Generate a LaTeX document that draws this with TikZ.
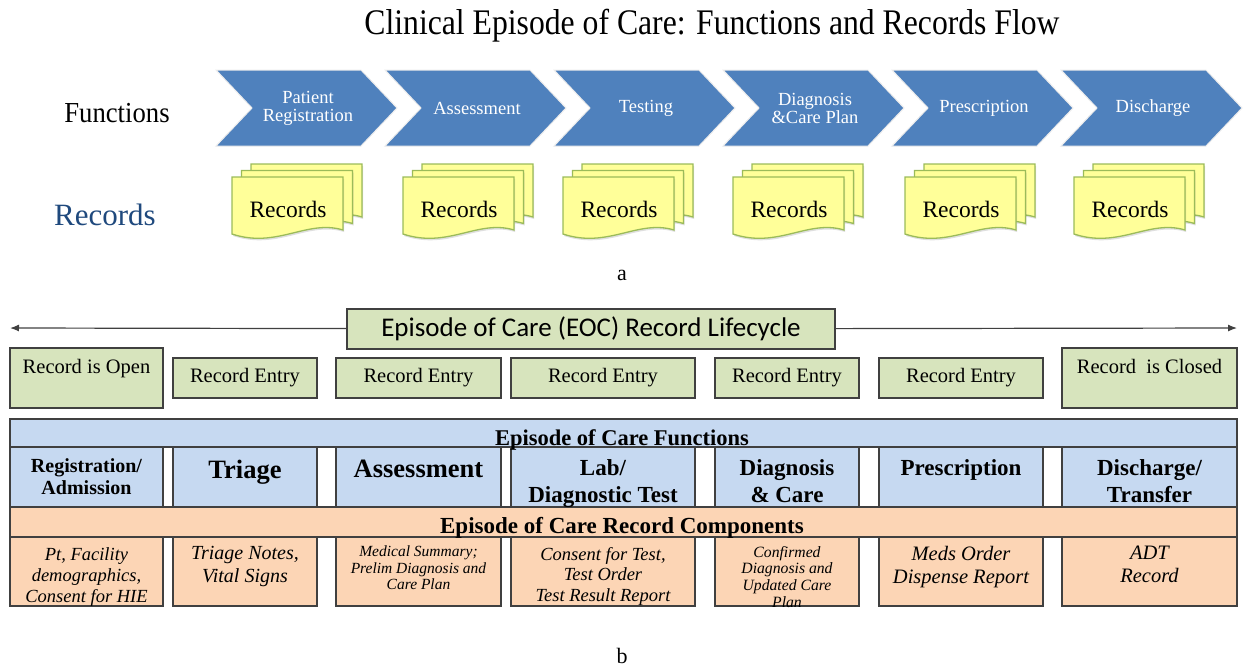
\documentclass[tikz,border=0pt]{standalone}
\usepackage{fontspec}
\usepackage{graphicx}
\setmainfont{Liberation Serif}
\newfontfamily\calibrifont{Carlito}
\usetikzlibrary{arrows.meta,shadows}

\definecolor{chevblue}{HTML}{4F81BD}
\definecolor{docyellow}{HTML}{FFFF99}
\definecolor{docgreen}{HTML}{9BBB59}
\definecolor{recgreen}{HTML}{D7E4BD}
\definecolor{fnblue}{HTML}{C6D9F1}
\definecolor{rcorange}{HTML}{FCD5B5}
\definecolor{linegray}{HTML}{404040}
\definecolor{recblue}{HTML}{1F497D}

\newcommand\fsz[2]{\fontsize{#1}{#2}\selectfont}
\newcommand\recdoc[2]{\path[doc, shift={(#1,#2)}] (0,0) -- (111,0) -- (111,53) .. controls (75,42) and (45,72) .. (0,57) -- cycle;}

\tikzset{
  chev/.style={fill=chevblue, draw=white!85!gray, line width=1pt},
  chevtext/.style={text=white, align=center, font=\fsz{18.5}{18}},
  doc/.style={fill=docyellow, draw=docgreen, line width=1.3pt, drop shadow={opacity=0.25, shadow xshift=1pt, shadow yshift=-2pt}},
  cellbox/.style={draw=linegray, line width=1.3pt, inner sep=0pt},
  lifebox/.style={cellbox, fill=recgreen},
  fnbox/.style={cellbox, fill=fnblue, minimum height=60pt},
  rcbox/.style={cellbox, fill=rcorange, minimum height=69pt},
  celltext/.style={anchor=north, align=center, inner sep=0pt},
  lifearrow/.style={draw=linegray, line width=1.2pt, -{Latex[length=9pt,width=7pt]}}
}

\begin{document}
\begin{tikzpicture}[x=1pt, y=-1pt]
  \useasboundingbox (0,0) rectangle (1244,669);

  \node[anchor=base] (title) at (712,35) {\scalebox{0.88}[1]{\fsz{36}{40}Clinical Episode of Care: Functions and Records Flow}};
  \node[anchor=base] (funclabel) at (117,122) {\scalebox{0.92}[1]{\fsz{29}{30}Functions}};
  \node[anchor=base, text=recblue] (reclabel) at (105,225) {\fsz{31}{32}Records};

  \foreach \t [count=\i from 0] in {{Patient\\Registration},Assessment,Testing,{Diagnosis\\\&Care Plan},Prescription,Discharge}{
    \pgfmathsetmacro\x{216+169*\i}
    \path[chev] (\x,70) -- ++(145,0) -- ++(36,38) -- ++(-36,38) -- ++(-145,0) -- ++(36,-38) -- cycle;
    \node[chevtext] (func\i) at (\x+92,108) {\t};
  }

  \foreach \x [count=\i] in {232,403,563,733,905,1074}{
    \recdoc{\x+19}{164}
    \recdoc{\x+9.5}{170.5}
    \recdoc{\x}{177}
    \node[anchor=base, font=\fsz{23.5}{25}] (rec\i) at (\x+56,217) {Records};
  }

  \node[anchor=base, font=\fsz{22}{24}] (parta) at (622,280) {a};

  \coordinate (lifeL) at (10,328);
  \coordinate (lifeR) at (1237,328);
  \node[lifebox, minimum width=488pt, minimum height=40pt, font=\calibrifont\fsz{27}{28}] (eoc) at (591,329) {Episode of Care (EOC) Record Lifecycle};
  \draw[lifearrow] (eoc) -- (lifeL);
  \draw[lifearrow] (eoc) -- (lifeR);

  \node[lifebox, minimum width=153pt, minimum height=60pt] (open) at (86.5,378) {};
  \node[celltext, font=\fsz{20.5}{22}] (opentext) at (86.5,359) {Record is Open};
  \foreach \l/\r [count=\i] in {173/317,336/501,511/695,715/859,879/1043}{
    \pgfmathsetmacro\c{(\l+\r)/2}
    \pgfmathsetmacro\w{\r-\l}
    \node[lifebox, minimum width=\w pt, minimum height=40pt, font=\fsz{20.5}{22}] (entry\i) at (\c,378) {Record Entry};
  }
  \node[lifebox, minimum width=175pt, minimum height=60pt] (closed) at (1149.5,378) {};
  \node[celltext, font=\fsz{20.5}{22}] (closedtext) at (1149.5,359) {Record~ is Closed};

  \node[cellbox, fill=fnblue, minimum width=1227pt, minimum height=28pt] (fnband) at (623.5,433) {};
  \node[cellbox, fill=rcorange, minimum width=1227pt, minimum height=30pt] (rcband) at (623.5,522) {};
  \foreach \l/\r [count=\i] in {10/163,173/317,336/501,511/695,715/859,879/1043,1062/1237}{
    \pgfmathsetmacro\c{(\l+\r)/2}
    \pgfmathsetmacro\w{\r-\l}
    \node[fnbox, minimum width=\w pt] (fn\i) at (\c,477) {};
    \node[rcbox, minimum width=\w pt] (rc\i) at (\c,571.5) {};
  }
  \node[anchor=base, font=\bfseries\fsz{22.5}{24}] (fntitle) at (622,445) {Episode of Care Functions};
  \node[anchor=base, font=\bfseries\fsz{23}{24}] (rctitle) at (622,533) {Episode of Care Record Components};

  \node[celltext, font=\bfseries\fsz{20}{22}] at (fn1.north |- 0,458) {Registration/\\Admission};
  \node[celltext, font=\bfseries\fsz{26.5}{28}] at (fn2.north |- 0,460) {Triage};
  \node[celltext, font=\bfseries\fsz{26.5}{28}] at (fn3.north |- 0,460) {Assessment};
  \node[celltext, font=\bfseries\fsz{23}{27}] at (fn4.north |- 0,459) {Lab/\\Diagnostic Test};
  \node[celltext, font=\bfseries\fsz{23}{27}] at (fn5.north |- 0,459) {Diagnosis\\\& Care};
  \node[celltext, font=\bfseries\fsz{23}{27}] at (fn6.north |- 0,459) {Prescription};
  \node[celltext, font=\bfseries\fsz{23}{27}] at (fn7.north |- 0,459) {Discharge/\\Transfer};

  \node[celltext, font=\itshape\fsz{18.5}{21}] at (rc1.north |- 0,547) {Pt, Facility\\demographics,\\Consent for HIE};
  \node[celltext, font=\itshape\fsz{20}{23}] at (rc2.north |- 0,546) {Triage Notes,\\Vital Signs};
  \node[celltext, font=\itshape\fsz{15.5}{16.5}] at (rc3.north |- 0,546) {Medical Summary;\\Prelim Diagnosis and\\Care Plan};
  \node[celltext, font=\itshape\fsz{18.5}{20.5}] at (rc4.north |- 0,547) {Consent for Test,\\Test Order\\Test Result Report};
  \node[celltext, font=\itshape\fsz{15.7}{16.7}] at (rc5.north |- 0,546) {Confirmed\\Diagnosis and\\Updated Care\\Plan};
  \node[celltext, font=\itshape\fsz{20.5}{23}] at (rc6.north |- 0,546) {Meds Order\\Dispense Report};
  \node[celltext, font=\itshape\fsz{20.5}{23}] at (rc7.north |- 0,546) {ADT\\Record};

  \node[anchor=base, font=\fsz{22}{24}] (partb) at (622,663) {b};
\end{tikzpicture}
\end{document}
